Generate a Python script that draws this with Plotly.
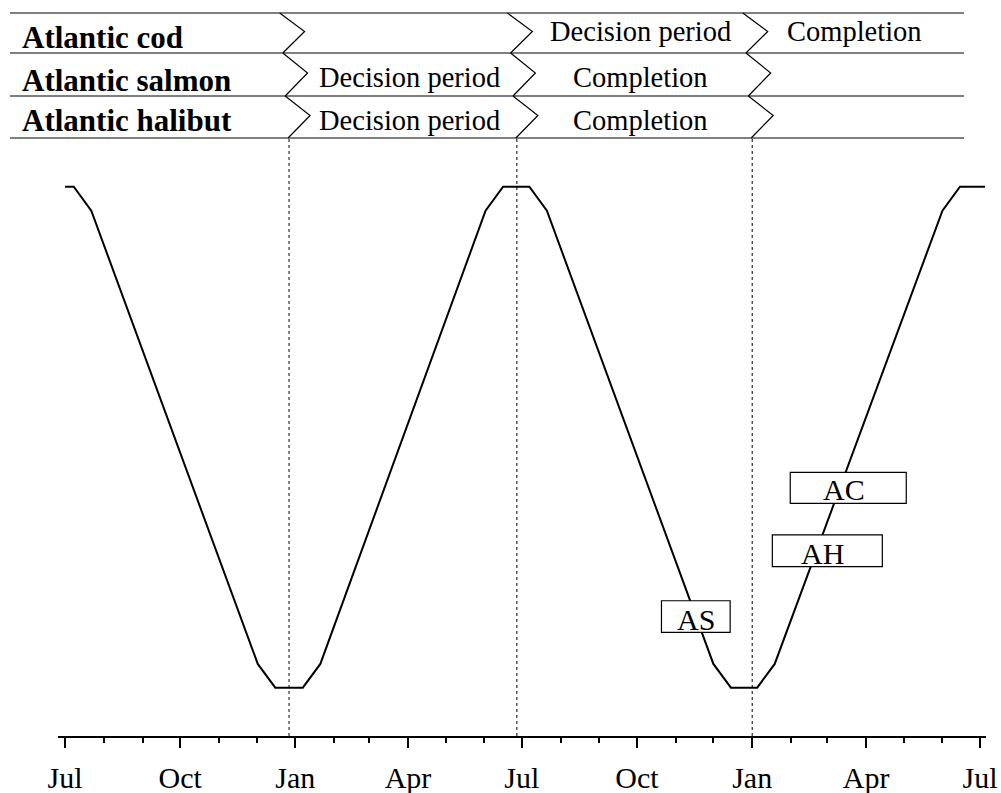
import pandas as pd
import plotly.graph_objects as go

# ---------------- data ----------------
curve_dates = ["2010-07-01", "2010-07-08", "2010-07-22", "2010-12-02", "2010-12-16",
               "2011-01-07", "2011-01-21", "2011-06-02", "2011-06-16", "2011-07-07",
               "2011-07-21", "2011-12-01", "2011-12-15", "2012-01-05", "2012-01-19",
               "2012-06-01", "2012-06-15", "2012-07-05"]
curve_values = [22.0, 22.0, 21.04, 2.95, 2.0,
                2.0, 2.95, 21.04, 22.0, 22.0,
                21.04, 2.95, 2.0, 2.0, 2.95,
                21.04, 22.0, 22.0]

species = ["Atlantic cod", "Atlantic salmon", "Atlantic halibut"]
boundary_dates = ["2010-12-27", "2011-06-27", "2012-01-01"]
# cells between boundaries: [before b1, b1-b2, b2-b3, after b3]
cells = [
    ["", "", "Decision period", "Completion"],
    ["", "Decision period", "Completion", ""],
    ["", "Decision period", "Completion", ""],
]
cell_centers = {  # centre date of text in each column
    1: "2011-04-02",
    2: "2011-10-04",
    3: "2012-03-23",
}

marker_labels = ["AS", "AH", "AC"]
marker_dates = ["2011-11-17", "2012-02-21", "2012-03-10"]
marker_values = [4.84, 7.46, 9.97]

tick_start = "2010-07-01"
x_range = ["2010-06-25 10:00", "2012-07-05 19:00"]
y_range = [0.072, 29.45]

# ---------------- layout constants ----------------
W, H = 1001, 793
ML, MR, MT, MB = 58, 15, 0, 57
PW = W - ML - MR
PH = H - MT - MB
FONT = "Liberation Serif, Times New Roman, serif"


def py(px):  # pixel y -> paper y
    return (PH - px) / PH


def pxx(px):  # pixel x -> paper x
    return (px - ML) / PW


def dstr(ts):  # date string usable inside a shape path
    return ts.strftime("%Y-%m-%d_%H:%M:%S")


fig = go.Figure()
fig.add_trace(go.Scatter(x=curve_dates, y=curve_values, mode="lines",
                         line=dict(color="black", width=2), showlegend=False,
                         hoverinfo="skip"))

shapes = []
annotations = []

# dotted vertical lines
for b in boundary_dates:
    shapes.append(dict(type="line", xref="x", yref="paper", x0=b, x1=b,
                       y0=0, y1=py(138), line=dict(color="black", width=1, dash="dot")))

# table horizontal lines
row_lines = [13, 53, 96, 138]
for yl in row_lines:
    shapes.append(dict(type="line", xref="paper", yref="paper",
                       x0=pxx(10), x1=pxx(964), y0=py(yl), y1=py(yl),
                       line=dict(color="black", width=1.2)))

# chevrons
edge_off = [-7.5, -5.0, -3.1, -0.8]   # days, slant of chevron column
point_off = [12.4, 14.8, 16.8]        # days
for b in boundary_dates:
    bt = pd.Timestamp(b)
    for r in range(3):
        top = bt + pd.Timedelta(days=edge_off[r])
        bot = bt + pd.Timedelta(days=edge_off[r + 1])
        pt = bt + pd.Timedelta(days=point_off[r])
        ymid = (row_lines[r] + row_lines[r + 1]) / 2 - 1.5
        path = (f"M{dstr(top)},{py(row_lines[r]):.5f}"
                f"L{dstr(pt)},{py(ymid):.5f}"
                f"L{dstr(bot)},{py(row_lines[r + 1]):.5f}")
        shapes.append(dict(type="path", xref="x", yref="paper", path=path,
                           line=dict(color="black", width=1.2)))

# species labels
label_y = [38, 80, 121]
for r, s in enumerate(species):
    annotations.append(dict(text=f"<b>{s}</b>", xref="paper", yref="paper",
                            x=pxx(20), y=py(label_y[r]), xanchor="left", yanchor="middle",
                            showarrow=False, font=dict(family=FONT, size=31, color="black")))

# cell texts
cell_y = [31, 78, 121]
for r in range(3):
    for c in range(1, 4):
        t = cells[r][c]
        if t:
            annotations.append(dict(text=t, xref="x", yref="paper", x=cell_centers[c],
                                    y=py(cell_y[r]), xanchor="center", yanchor="middle",
                                    showarrow=False,
                                    font=dict(family=FONT, size=28.5, color="black")))

# marker label boxes
box_geo = {  # pixel offsets relative to anchor: x0, x1, y0, y1 (y up)
    "AS": (-34.4, 34.3, -15.8, 15.8),
    "AH": (-43.7, 66.3, -15.7, 16.0),
    "AC": (-48.3, 67.7, -15.3, 15.7),
}
text_shift = {"AS": (0, -2.5), "AH": (6.7, -2.3), "AC": (5, -1.3)}
for lab, d, v in zip(marker_labels, marker_dates, marker_values):
    x0, x1, y0, y1 = box_geo[lab]
    shapes.append(dict(type="rect", xref="x", yref="y", xsizemode="pixel",
                       ysizemode="pixel", xanchor=d, yanchor=v,
                       x0=x0, x1=x1, y0=y0, y1=y1, fillcolor="white",
                       line=dict(color="black", width=1.2), layer="above"))
    xs, ys = text_shift[lab]
    annotations.append(dict(text=lab, x=d, y=v, xref="x", yref="y", showarrow=False,
                            xshift=xs, yshift=ys, xanchor="center", yanchor="middle",
                            font=dict(family=FONT, size=30, color="black")))

fig.update_layout(
    width=W, height=H,
    margin=dict(l=ML, r=MR, t=MT, b=MB, pad=0),
    paper_bgcolor="white", plot_bgcolor="white",
    shapes=shapes, annotations=annotations,
    font=dict(family=FONT, color="black"),
    xaxis=dict(type="date", range=x_range, tick0=tick_start, dtick="M3",
               tickformat="%b", ticks="outside", ticklen=10, tickwidth=2,
               tickcolor="black", showline=True, linecolor="black", linewidth=2,
               showgrid=False, zeroline=False, ticklabelstandoff=4,
               tickfont=dict(family=FONT, size=30, color="black"),
               minor=dict(dtick="M1", tick0=tick_start, ticks="outside", ticklen=5,
                          tickwidth=2, tickcolor="black", showgrid=False)),
    yaxis=dict(range=y_range, visible=False, showgrid=False, zeroline=False),
)

fig.write_html("out.html",
               config={"displayModeBar": False},
               post_script="document.body.style.margin='0';"
                           "document.body.style.overflow='hidden';")
